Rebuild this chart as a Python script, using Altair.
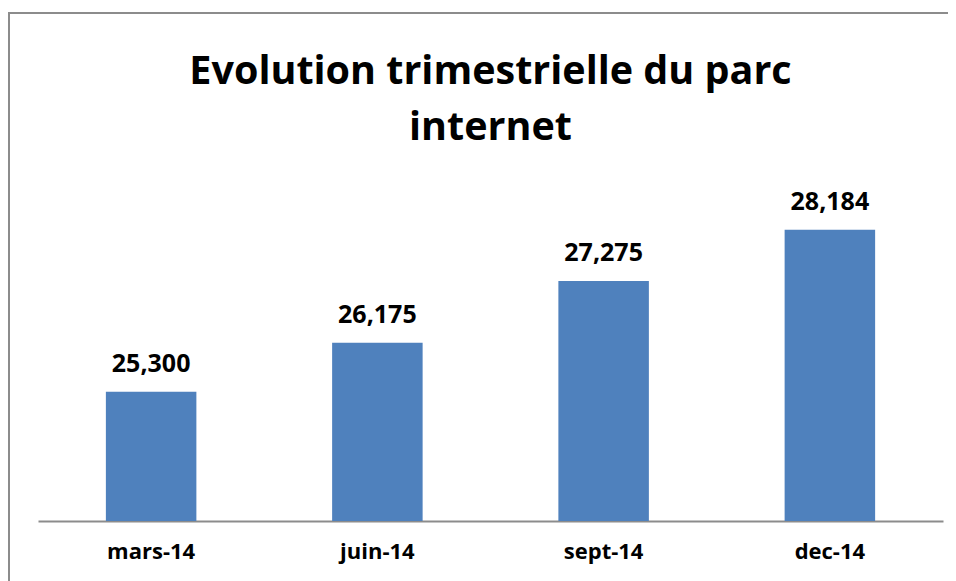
import altair as alt
import pandas as pd

categories = ["mars-14", "juin-14", "sept-14", "dec-14"]
values = [25300, 26175, 27275, 28184]

df = pd.DataFrame({"trimestre": categories, "parc": values})

FONT = "Open Sans"

x = alt.X("trimestre:N", sort=categories, title=None,
          scale=alt.Scale(paddingInner=0.6, paddingOuter=0.3),
          axis=alt.Axis(labelAngle=0, labelFont=FONT, labelFontSize=22,
                        labelFontWeight="bold", labelColor="black",
                        labelPadding=20, ticks=False, domainColor="#8c8c8c",
                        domainWidth=2))
y = alt.Y("parc:Q", title=None, axis=None,
          scale=alt.Scale(domain=[23000, 29000], zero=False, clamp=True))

bars = alt.Chart(df).mark_bar(color="#4F81BD").encode(x=x, y=y)
labels = alt.Chart(df).mark_text(dy=-15, font=FONT, fontSize=25,
                                 fontWeight="bold", color="black",
                                 baseline="bottom").encode(
    x=x, y=y, text=alt.Text("parc:Q", format=","))

frame = alt.Chart(df).mark_rect(fill=None, stroke="#8c8c8c", strokeWidth=2,
                                clip=False).encode(
    x=alt.value(-29), x2=alt.value(912), y=alt.value(-171), y2=alt.value(600))

chart = alt.layer(frame, bars, labels).properties(
    width=905, height=337,
    title=alt.TitleParams(["Evolution trimestrielle du parc", "internet"],
                          font=FONT, fontSize=39.5, fontWeight="bold",
                          color="black", lineHeight=56, offset=-136,
                          anchor="middle", frame="group"),
    autosize=alt.AutoSizeParams(type="none"),
    padding={"left": 30, "top": 176, "right": 5, "bottom": 60},
).configure_view(stroke=None)

chart.save("out.html", embed_options={"renderer": "svg", "actions": False})
